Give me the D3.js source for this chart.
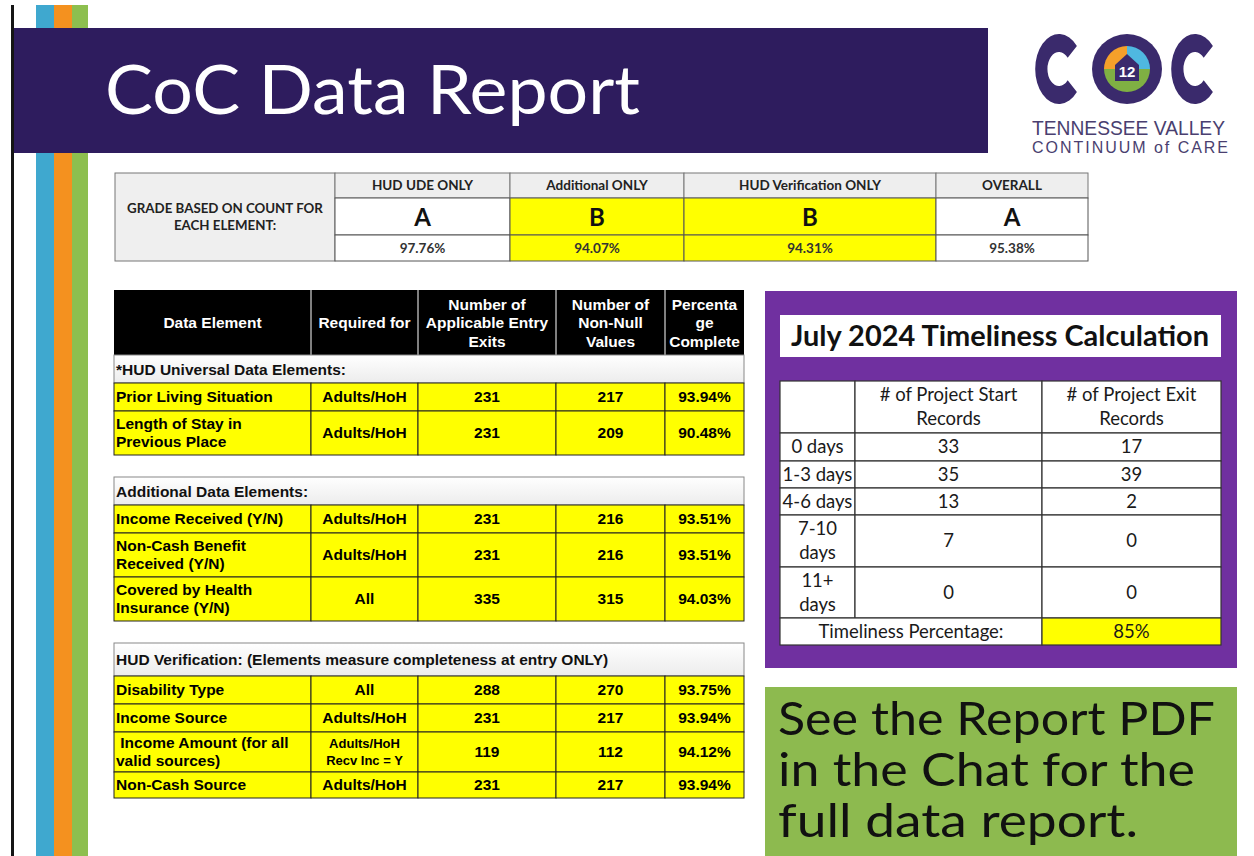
<!DOCTYPE html>
<html><head><meta charset="utf-8">
<script src="https://cdn.jsdelivr.net/npm/d3@7"></script>
<style>body{margin:0;background:#fff}svg{display:block}</style>
</head><body><svg id="c" width="1254" height="856"></svg>
<script>
// ---------- DATA ----------
const reportTitle = "CoC Data Report";
const gradeLabel = ["GRADE BASED ON COUNT FOR", "EACH ELEMENT:"];
const gradeCategories = ["HUD UDE ONLY", "Additional ONLY", "HUD Verification ONLY", "OVERALL"];
const grades = ["A", "B", "B", "A"];
const gradePcts = [97.76, 94.07, 94.31, 95.38];

const tableHeaders = ["Data Element", "Required for", "Number of\nApplicable Entry\nExits", "Number of\nNon-Null\nValues", "Percenta\nge\nComplete"];

const udeTitle = "*HUD Universal Data Elements:";
const udeElements = ["Prior Living Situation", "Length of Stay in\nPrevious Place"];
const udeRequired = ["Adults/HoH", "Adults/HoH"];
const udeApplicable = [231, 231];
const udeNonNull = [217, 209];
const udePct = [93.94, 90.48];

const addTitle = "Additional Data Elements:";
const addElements = ["Income Received (Y/N)", "Non-Cash Benefit\nReceived (Y/N)", "Covered by Health\nInsurance (Y/N)"];
const addRequired = ["Adults/HoH", "Adults/HoH", "All"];
const addApplicable = [231, 231, 335];
const addNonNull = [216, 216, 315];
const addPct = [93.51, 93.51, 94.03];

const verTitle = "HUD Verification: (Elements measure completeness at entry ONLY)";
const verElements = ["Disability Type", "Income Source", "\u00a0Income Amount (for all\nvalid sources)", "Non-Cash Source"];
const verRequired = ["All", "Adults/HoH", "Adults/HoH\nRecv Inc = Y", "Adults/HoH"];
const verApplicable = [288, 231, 119, 231];
const verNonNull = [270, 217, 112, 217];
const verPct = [93.75, 93.94, 94.12, 93.94];

const timelinessTitle = "July 2024 Timeliness Calculation";
const timeHeaders = ["", "# of Project Start\nRecords", "# of Project Exit\nRecords"];
const timeBuckets = ["0 days", "1-3 days", "4-6 days", "7-10\ndays", "11+\ndays"];
const startRecords = [33, 35, 13, 7, 0];
const exitRecords = [17, 39, 2, 0, 0];
const timelinessLabel = "Timeliness Percentage:";
const timelinessPct = 85;

const noteLines = ["See the Report PDF", "in the Chat for the", "full data report."];
const logoLine1 = "TENNESSEE VALLEY";
const logoLine2 = "CONTINUUM of CARE";

// ---------- LAYOUT / STYLE ----------
const YEL = "#ffff00";
const svg = d3.select("#c");
const fmtPct = v => d3.format(".2f")(v) + "%";

function multiText(g, x, yMid, str, size, lh, attrs) {
  const lines = str.split("\n");
  const t = g.append("text").attr("x", x).attr("text-anchor", attrs.anchor || "middle")
    .attr("font-family", attrs.family).attr("font-weight", attrs.weight || "normal")
    .attr("font-size", size).attr("fill", attrs.fill || "#000");
  const y0 = yMid - (lines.length - 1) * lh / 2 + size * 0.35;
  lines.forEach((l, i) => t.append("tspan").attr("x", x).attr("y", y0 + i * lh).text(l));
  return t;
}

// side stripes
svg.append("rect").attr("x", 11).attr("y", 5).attr("width", 3).attr("height", 851).attr("fill", "#151515");
[["#3fa8cf", 36, 18], ["#f4911f", 54, 18], ["#8dbf4f", 72, 16]].forEach(([c, x, w]) =>
  svg.append("rect").attr("x", x).attr("y", 5).attr("width", w).attr("height", 851).attr("fill", c));

// banner
svg.append("rect").attr("x", 14).attr("y", 28).attr("width", 974).attr("height", 125).attr("fill", "#2e1c5e");
svg.append("text").attr("x", 105).attr("y", 114).attr("fill", "#fff")
  .attr("font-family", "Lato, sans-serif").attr("font-size", 68)
  .attr("textLength", 535).attr("lengthAdjust", "spacingAndGlyphs").text(reportTitle);

// logo
const logo = svg.append("g");
const LP = "#3a2a6c";
const cArc = d3.arc().innerRadius(17).outerRadius(35);
[1059, 1195].forEach(cx =>
  logo.append("path").attr("transform", `translate(${cx},69) scale(0.68,1)`)
    .attr("d", cArc({ startAngle: Math.PI / 2 + 0.72, endAngle: Math.PI / 2 + 2 * Math.PI - 0.72 }))
    .attr("fill", LP));
const oc = { x: 1127, y: 69 };
const arcG = logo.append("g").attr("transform", `translate(${oc.x},${oc.y})`);
arcG.append("circle").attr("r", 35).attr("fill", LP);
const arc = d3.arc().innerRadius(0).outerRadius(23);
arcG.append("path").attr("d", arc({ startAngle: -Math.PI / 2, endAngle: 0 })).attr("fill", "#f5a02a");
arcG.append("path").attr("d", arc({ startAngle: 0, endAngle: Math.PI / 2 })).attr("fill", "#4fb8e0");
arcG.append("path").attr("d", arc({ startAngle: Math.PI / 2, endAngle: 3 * Math.PI / 2 })).attr("fill", "#7fb043");
arcG.append("path").attr("d", "M-12,-4 L0,-15 L12,-4 L12,12 L-12,12 Z").attr("fill", LP);
arcG.append("text").attr("y", 8).attr("text-anchor", "middle").attr("font-family", "Liberation Sans")
  .attr("font-weight", "bold").attr("font-size", 15).attr("fill", "#fff").text("12");
logo.append("text").attr("x", 1032).attr("y", 135).attr("font-family", "Liberation Sans, Arial")
  .attr("font-size", 21).attr("fill", "#4a3f70").attr("textLength", 193).attr("lengthAdjust", "spacingAndGlyphs").text(logoLine1);
logo.append("text").attr("x", 1032).attr("y", 153).attr("font-family", "Liberation Sans, Arial")
  .attr("font-size", 16).attr("fill", "#4a3f70").attr("textLength", 196).attr("lengthAdjust", "spacing").text(logoLine2);

// ---------- GRADE TABLE ----------
const gx = d3.scaleOrdinal().domain([-1, ...gradeCategories.map((d, i) => i), 4]).range([115, 335, 510, 684, 936, 1088]);
const gy = [173, 198, 235, 261];
const gt = svg.append("g");
gt.append("rect").attr("x", gx(-1)).attr("y", gy[0]).attr("width", gx(0) - gx(-1)).attr("height", gy[3] - gy[0])
  .attr("fill", "#efefef").attr("stroke", "#777");
multiText(gt, (gx(-1) + gx(0)) / 2, (gy[0] + gy[3]) / 2, gradeLabel.join("\n"), 13.3, 17,
  { family: "Lato, sans-serif", weight: "bold", fill: "#222" });
gradeCategories.forEach((cat, i) => {
  const x0 = gx(i), x1 = gx(i + 1), cx = (x0 + x1) / 2;
  const hl = grades[i] === "B" ? YEL : "#fff";
  gt.append("rect").attr("x", x0).attr("y", gy[0]).attr("width", x1 - x0).attr("height", gy[1] - gy[0]).attr("fill", "#eeeeee").attr("stroke", "#777");
  gt.append("rect").attr("x", x0).attr("y", gy[1]).attr("width", x1 - x0).attr("height", gy[2] - gy[1]).attr("fill", hl).attr("stroke", "#555");
  gt.append("rect").attr("x", x0).attr("y", gy[2]).attr("width", x1 - x0).attr("height", gy[3] - gy[2]).attr("fill", hl).attr("stroke", "#555");
  multiText(gt, cx, (gy[0] + gy[1]) / 2, cat, 13.5, 14, { family: "Lato, sans-serif", weight: "bold", fill: "#222" });
  multiText(gt, cx, (gy[1] + gy[2]) / 2 + 1, grades[i], 24, 20, { family: "Lato, sans-serif", weight: "bold", fill: "#111" });
  multiText(gt, cx, (gy[2] + gy[3]) / 2, fmtPct(gradePcts[i]), 13.5, 14, { family: "Lato, sans-serif", weight: "bold", fill: "#333" });
});

// ---------- MAIN TABLE ----------
const colX = [114, 311, 418, 556, 665, 744];
const ARIAL = "Liberation Sans, Arial, sans-serif";
const FS = 15.5;
const mt = svg.append("g");
// header
mt.append("rect").attr("x", colX[0]).attr("y", 290).attr("width", colX[5] - colX[0]).attr("height", 65).attr("fill", "#000");
tableHeaders.forEach((h, i) => {
  if (i > 0) mt.append("line").attr("x1", colX[i]).attr("x2", colX[i]).attr("y1", 290).attr("y2", 355).attr("stroke", "#fff").attr("stroke-width", 1);
  multiText(mt, (colX[i] + colX[i + 1]) / 2, 323, h, FS, 18.5, { family: ARIAL, weight: "bold", fill: "#fff" });
});

function block(title, titleTop, titleH, rowHeights, els, req, app, nn, pct) {
  const g = mt.append("g");
  const grad = "sg" + Math.round(titleTop);
  const defs = svg.append("defs");
  const lg = defs.append("linearGradient").attr("id", grad).attr("x1", 0).attr("x2", 0).attr("y1", 0).attr("y2", 1);
  lg.append("stop").attr("offset", 0).attr("stop-color", "#ffffff");
  lg.append("stop").attr("offset", 1).attr("stop-color", "#ececec");
  g.append("rect").attr("x", colX[0]).attr("y", titleTop).attr("width", colX[5] - colX[0]).attr("height", titleH)
    .attr("fill", `url(#${grad})`).attr("stroke", "#888");
  g.append("text").attr("x", colX[0] + 2).attr("y", titleTop + titleH / 2 + 5.5).attr("font-family", ARIAL)
    .attr("font-weight", "bold").attr("font-size", FS).attr("fill", "#111").text(title);
  const tops = [titleTop + titleH];
  rowHeights.forEach(h => tops.push(tops[tops.length - 1] + h));
  const y = d3.scaleOrdinal().domain(els.map((d, i) => i)).range(tops.slice(0, -1));
  els.forEach((el, r) => {
    const y0 = y(r), h = rowHeights[r], ym = y0 + h / 2;
    const vals = [el, req[r], String(app[r]), String(nn[r]), fmtPct(pct[r])];
    vals.forEach((v, c) => {
      g.append("rect").attr("x", colX[c]).attr("y", y0).attr("width", colX[c + 1] - colX[c]).attr("height", h)
        .attr("fill", YEL).attr("stroke", "#222").attr("stroke-width", 1);
      const small = v.includes("Recv");
      if (c === 0) multiText(g, colX[0] + 2, ym, v, FS, 18, { family: ARIAL, weight: "bold", anchor: "start" });
      else multiText(g, (colX[c] + colX[c + 1]) / 2, ym, v, small ? 13 : FS, small ? 17 : 18, { family: ARIAL, weight: "bold" });
    });
  });
}
block(udeTitle, 355, 28, [28, 44], udeElements, udeRequired, udeApplicable, udeNonNull, udePct);
block(addTitle, 477, 28, [28, 44, 44], addElements, addRequired, addApplicable, addNonNull, addPct);
block(verTitle, 643, 33, [28, 28, 40, 26], verElements, verRequired, verApplicable, verNonNull, verPct);

// ---------- TIMELINESS ----------
const tg = svg.append("g");
tg.append("rect").attr("x", 765).attr("y", 291).attr("width", 472).attr("height", 377).attr("fill", "#7030a0");
tg.append("rect").attr("x", 780).attr("y", 315).attr("width", 441).attr("height", 42).attr("fill", "#fff");
tg.append("text").attr("x", 1000).attr("y", 346).attr("text-anchor", "middle").attr("font-family", "Lato, sans-serif")
  .attr("font-weight", "bold").attr("font-size", 28).attr("fill", "#111")
  .attr("textLength", 418).attr("lengthAdjust", "spacingAndGlyphs").text(timelinessTitle);
const tx = [780, 855, 1042, 1221];
const rowTops = [381, 433, 461, 488, 515, 567, 618, 645];
const CAL = "Lato, sans-serif";
const tyScale = d3.scaleOrdinal().domain(["h", ...timeBuckets, "pct"]).range(rowTops.slice(0, -1));
function tcell(x0, x1, key, idx, text, fill) {
  const y0 = tyScale(key), y1 = rowTops[idx + 1];
  tg.append("rect").attr("x", x0).attr("y", y0).attr("width", x1 - x0).attr("height", y1 - y0)
    .attr("fill", fill || "#fff").attr("stroke", "#333").attr("stroke-width", 1.2);
  if (text !== "") multiText(tg, (x0 + x1) / 2, (y0 + y1) / 2, text, 18.5, 24, { family: CAL, fill: "#1a1a1a" });
}
timeHeaders.forEach((h, c) => tcell(tx[c], tx[c + 1], "h", 0, h));
timeBuckets.forEach((b, r) => {
  tcell(tx[0], tx[1], b, r + 1, b);
  tcell(tx[1], tx[2], b, r + 1, String(startRecords[r]));
  tcell(tx[2], tx[3], b, r + 1, String(exitRecords[r]));
});
tcell(tx[0], tx[2], "pct", 6, timelinessLabel);
tcell(tx[2], tx[3], "pct", 6, timelinessPct + "%", YEL);

// ---------- NOTE ----------
const ng = svg.append("g");
ng.append("rect").attr("x", 765).attr("y", 687).attr("width", 472).attr("height", 169).attr("fill", "#8dba4f");
const noteW = [437, 417, 360];
noteLines.forEach((l, i) =>
  ng.append("text").attr("x", 778).attr("y", 735 + i * 51).attr("font-family", "Lato, sans-serif")
    .attr("font-size", 46).attr("fill", "#111").attr("textLength", noteW[i]).attr("lengthAdjust", "spacingAndGlyphs").text(l));
</script></body></html>
